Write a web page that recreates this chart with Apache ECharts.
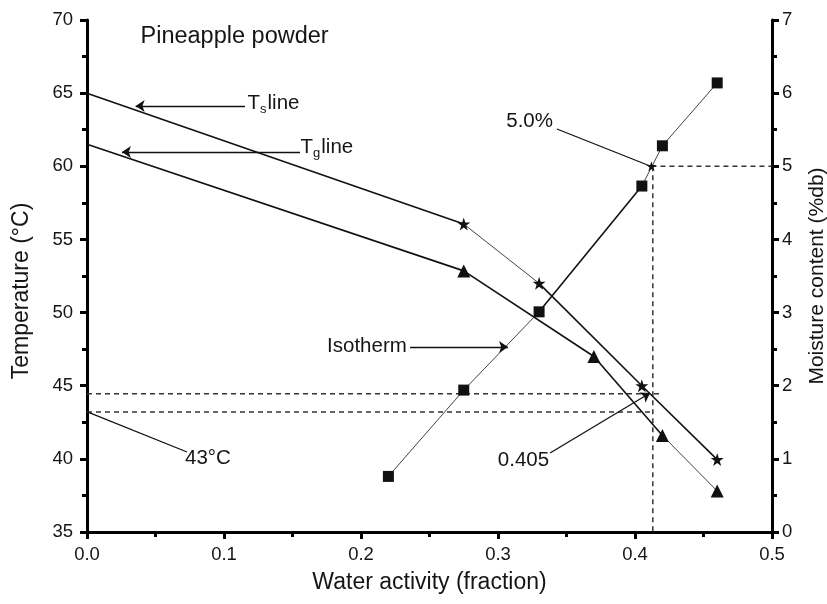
<!DOCTYPE html>
<html>
<head>
<meta charset="utf-8">
<script src="https://cdn.jsdelivr.net/npm/echarts@6/dist/echarts.min.js"></script>
<style>html,body{margin:0;padding:0;background:#fff}#c{width:827px;height:604px}</style>
</head>
<body>
<div id="c"></div>
<script>
// ---- data ----
const tsWaterActivity = [0, 0.275, 0.33, 0.405, 0.46];
const tsTemperature = [65, 56.05, 52.0, 45.0, 39.95];
const tsThinSegments = [false, true, false, false];

const tgWaterActivity = [0, 0.275, 0.37, 0.42, 0.46];
const tgTemperature = [61.5, 52.85, 47.0, 41.6, 37.8];
const tgThinSegments = [false, false, false, true];

const isoWaterActivity = [0.22, 0.275, 0.33, 0.405, 0.42, 0.46];
const isoMoisture = [0.76, 1.94, 3.01, 4.73, 5.28, 6.14];
const isoThinSegments = [true, true, false, true, true];

const criticalPoint = [0.412, 5.0];          // (aw, moisture %db)
const criticalAw = 0.413;
const tempDashA = 44.45;
const tempDashAEnd = 0.418;
const tempDashB = 43.2;

const xTicks = [0, 0.1, 0.2, 0.3, 0.4, 0.5];
const tempTicks = [35, 40, 45, 50, 55, 60, 65, 70];
const moistTicks = [0, 1, 2, 3, 4, 5, 6, 7];

// annotation texts: [text key, aw, temperature, side]
const annotationTexts = [
  ['title', 0.0387, 68.85, 'right'],
  ['ts', 0.1168, 64.3, 'right'],
  ['tg', 0.1555, 61.3, 'right'],
  ['5.0%', 0.3405, 63.05, 'left'],
  ['Isotherm', 0.2338, 47.72, 'left'],
  ['43°C', 0.0712, 40.06, 'right'],
  ['0.405', 0.2995, 39.9, 'right']
];
// annotation lines: [aw1, T1, aw2, T2, arrowhead]
const annotationLines = [
  [0.1153, 64.12, 0.0355, 64.12, true],
  [0.1555, 60.98, 0.0255, 60.98, true],
  [0.343, 62.55, 0.411, 60.02, false],
  [0.2358, 47.65, 0.3073, 47.65, true],
  [0.073, 40.47, 0.0007, 43.2, false],
  [0.338, 40.4, 0.411, 44.5, true]
];

// ---- chart ----
const FONT = '"Liberation Sans", Arial, Helvetica, sans-serif';
const TXT = '#151515';
const chart = echarts.init(document.getElementById('c'), null, {renderer: 'canvas'});

const star = 'path://M50,0 L61.2,34.5 L97.6,34.5 L68.2,55.9 L79.4,90.5 L50,69.1 L20.6,90.5 L31.8,55.9 L2.4,34.5 L38.8,34.5 Z';

function segSeries(xs, ys, thin, yIdx) {
  const out = [];
  for (let i = 0; i < xs.length - 1; i++) {
    out.push({
      type: 'line', yAxisIndex: yIdx, symbol: 'none', silent: true, animation: false, z: 2,
      data: [[xs[i], ys[i]], [xs[i + 1], ys[i + 1]]],
      lineStyle: thin[i] ? {color: '#444', width: 1} : {color: '#111', width: 1.6}
    });
  }
  return out;
}
function markers(xs, ys, sym, size, yIdx) {
  return {
    type: 'scatter', yAxisIndex: yIdx, symbol: sym, symbolSize: size, animation: false, z: 4,
    itemStyle: {color: '#111', opacity: 1},
    data: xs.map((x, i) => [x, ys[i]])
  };
}
function dashed(data, yIdx) {
  return {
    type: 'line', yAxisIndex: yIdx, symbol: 'none', silent: true, animation: false, z: 1,
    data: data, lineStyle: {color: '#333', width: 1.5, type: [5, 4]}
  };
}

const labelRich = {
  a: {fontFamily: FONT, fontSize: 20.5, color: TXT, lineHeight: 24},
  s: {fontFamily: FONT, fontSize: 13, color: TXT, padding: [13, 1, 0, 0], lineHeight: 24},
  t: {fontFamily: FONT, fontSize: 23.5, color: TXT}
};
function labelFor(key) {
  if (key === 'title') return '{t|Pineapple powder}';
  if (key === 'ts') return '{a|T}{s|s}{a|line}';
  if (key === 'tg') return '{a|T}{s|g}{a|line}';
  return '{a|' + key + '}';
}

const series = [];
series.push(dashed([[0, tempDashA], [tempDashAEnd, tempDashA]], 0));
series.push(dashed([[0, tempDashB], [criticalAw, tempDashB]], 0));
series.push(dashed([[criticalAw, criticalPoint[1]], [criticalAw, 0]], 1));
series.push(dashed([[criticalPoint[0], criticalPoint[1]], [0.5, criticalPoint[1]]], 1));
series.push(...segSeries(tsWaterActivity, tsTemperature, tsThinSegments, 0));
series.push(...segSeries(tgWaterActivity, tgTemperature, tgThinSegments, 0));
series.push(...segSeries(isoWaterActivity, isoMoisture, isoThinSegments, 1));
series.push(markers(tsWaterActivity.slice(1), tsTemperature.slice(1), star, 13, 0));
series.push(markers(tgWaterActivity.slice(1), tgTemperature.slice(1), 'triangle', 13, 0));
series.push(markers(isoWaterActivity, isoMoisture, 'rect', 11, 1));
series.push(markers([criticalPoint[0]], [criticalPoint[1]], star, 10, 1));
series.push({
  type: 'scatter', yAxisIndex: 0, symbol: 'circle', symbolSize: 1, animation: false, silent: true, z: 5,
  itemStyle: {color: 'rgba(0,0,0,0)', opacity: 1},
  data: annotationTexts.map(a => ({
    value: [a[1], a[2]],
    label: {show: true, position: a[3], distance: 0, formatter: labelFor(a[0]), rich: labelRich}
  }))
});
series.push({
  type: 'line', yAxisIndex: 0, data: [], animation: false, silent: true,
  markLine: {
    silent: true, animation: false, symbolSize: [10, 10],
    lineStyle: {color: '#111', width: 1.3, type: 'solid'},
    label: {show: false},
    data: annotationLines.map(l => [
      {coord: [l[0], l[1]], symbol: 'none'},
      {coord: [l[2], l[3]], symbol: l[4] ? 'arrow' : 'none', symbolSize: 9}
    ])
  }
});

const axisCommon = {
  axisLine: {show: true, onZero: false, lineStyle: {color: '#000', width: 3}},
  axisTick: {show: true, length: 7, lineStyle: {color: '#000', width: 3}},
  minorTick: {show: true, splitNumber: 2, length: 5, lineStyle: {color: '#000', width: 3}},
  splitLine: {show: false},
  axisLabel: {fontFamily: FONT, fontSize: 18.5, color: TXT}
};

chart.setOption({
  backgroundColor: '#fff',
  animation: false,
  grid: {left: 87, right: 55, top: 20, bottom: 72, containLabel: false, outerBoundsMode: 'none'},
  xAxis: Object.assign({}, axisCommon, {
    type: 'value', min: xTicks[0], max: xTicks[xTicks.length - 1], interval: 0.1,
    name: 'Water activity (fraction)', nameLocation: 'middle', nameGap: 39,
    nameTextStyle: {fontFamily: FONT, fontSize: 23, color: TXT},
    axisLabel: Object.assign({}, axisCommon.axisLabel, {margin: 13, formatter: v => v.toFixed(1)})
  }),
  yAxis: [
    Object.assign({}, axisCommon, {
      type: 'value', position: 'left', min: tempTicks[0], max: tempTicks[tempTicks.length - 1], interval: 5,
      name: 'Temperature (°C)', nameLocation: 'middle', nameGap: 54, nameRotate: 90,
      nameTextStyle: {fontFamily: FONT, fontSize: 23, color: TXT, padding: [0, 30, 0, 0]},
      axisLabel: Object.assign({}, axisCommon.axisLabel, {margin: 14})
    }),
    Object.assign({}, axisCommon, {
      type: 'value', position: 'right', min: moistTicks[0], max: moistTicks[moistTicks.length - 1], interval: 1,
      name: 'Moisture content (%db)', nameLocation: 'middle', nameGap: 35, nameRotate: 90,
      nameTextStyle: {fontFamily: FONT, fontSize: 21, color: TXT},
      axisLabel: Object.assign({}, axisCommon.axisLabel, {margin: 10})
    })
  ],
  series: series
});
</script>
</body>
</html>
